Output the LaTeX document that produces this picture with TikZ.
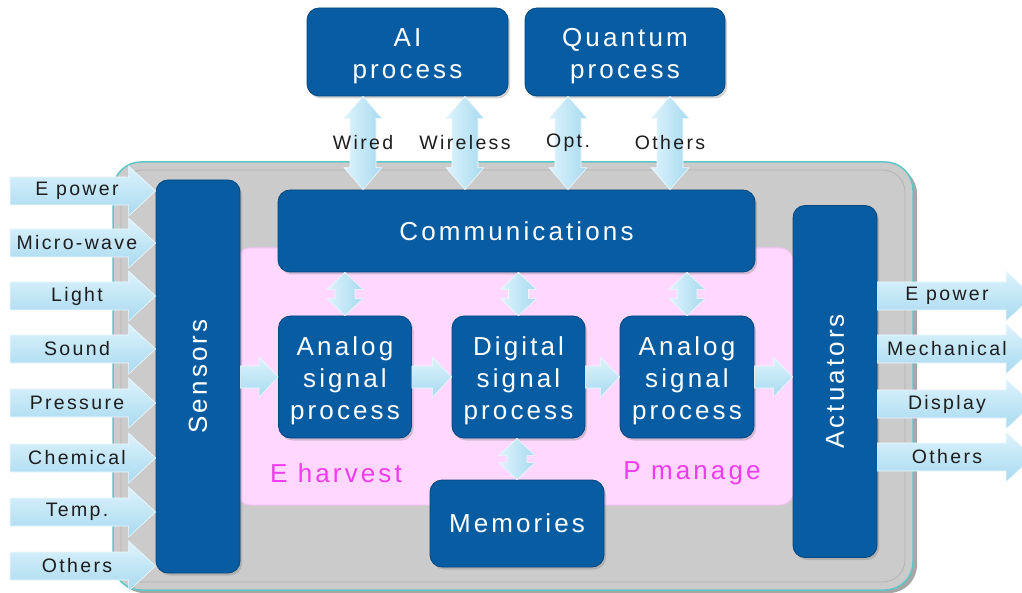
\documentclass[tikz,border=0pt]{standalone}
\usepackage{fontspec}
\setmainfont{Liberation Sans}[LetterSpace=12]
\usetikzlibrary{calc,shadows}

\definecolor{boxblue}{HTML}{075CA2}
\definecolor{boxedge}{HTML}{04467E}
\definecolor{frame}{HTML}{CBCBCB}
\definecolor{frameedge}{HTML}{5EC6C6}
\definecolor{pinkarea}{HTML}{FFD7FF}
\definecolor{pinkedge}{HTML}{F2C0F2}
\definecolor{arrowlight}{HTML}{DDF3FC}
\definecolor{arrowdark}{HTML}{A8DAF0}
\definecolor{arrowedge}{HTML}{EEF9FE}
\definecolor{labelink}{HTML}{1E1E1E}
\definecolor{magentaink}{HTML}{F03CF0}

% strut that lowers multi-line block text a little
\newcommand\toplift{\rule{0pt}{27pt}}

% right-pointing block arrow: style, tail, tip, shaft half-height, head half-height, head length
\newcommand\blockright[6]{%
  \path[#1] ($(#2)+(0,-#4)$) -- ($(#3)+(-#6,-#4)$) -- ($(#3)+(-#6,-#5)$) -- (#3)
    -- ($(#3)+(-#6,#5)$) -- ($(#3)+(-#6,#4)$) -- ($(#2)+(0,#4)$) -- cycle;}
% vertical double block arrow: style, upper tip, lower tip, shaft half-width, head half-width, head length
\newcommand\blockupdown[6]{%
  \path[#1] (#2) -- ($(#2)+(#5,#6)$) -- ($(#2)+(#4,#6)$) -- ($(#3)+(#4,-#6)$)
    -- ($(#3)+(#5,-#6)$) -- (#3) -- ($(#3)+(-#5,-#6)$) -- ($(#3)+(-#4,-#6)$)
    -- ($(#2)+(-#4,#6)$) -- ($(#2)+(-#5,#6)$) -- cycle;}

\tikzset{
  blk/.style={fill=boxblue, draw=boxedge, line width=0.8pt, rounded corners=12pt,
    text=white, font=\fontsize{26}{32}\selectfont, align=center, inner sep=0pt,
    drop shadow={shadow xshift=2pt, shadow yshift=-2.5pt, opacity=0.35}},
  blktext/.style={text=white, font=\fontsize{26}{32}\selectfont, align=center},
  harrow/.style={top color=arrowlight, bottom color=arrowdark, draw=arrowedge, line width=0.6pt},
  varrow/.style={left color=arrowlight, right color=arrowdark, draw=arrowedge, line width=0.6pt},
  lbl/.style={text=labelink, font=\fontsize{19.5}{22}\selectfont, inner sep=0pt},
  mlbl/.style={text=magentaink, font=\fontsize{26}{30}\selectfont, inner sep=0pt},
}

\begin{document}
\begin{tikzpicture}[x=1pt,y=-1pt]
\useasboundingbox (0,0) rectangle (1022,593);
\clip (0,0) rectangle (1022,593);
\fill[white] (0,0) rectangle (1022,593);

% outer housing
\fill[black!35, rounded corners=28pt] (116,166) rectangle (917,593);
\draw[fill=frame, draw=frameedge, line width=1.5pt, rounded corners=28pt] (113,162) rectangle (913,590);
\draw[black!30, line width=0.8pt, rounded corners=22pt] (121,170) rectangle (905,582);

% pink processing area
\draw[fill=pinkarea, draw=pinkedge, line width=1pt, rounded corners=14pt] (236,248) rectangle (794,505);

% blocks
\node[blk, minimum width=84pt, minimum height=393pt] (sens) at (198,376.5) {};
\node[blktext, rotate=90] (senslbl) at (sens.center) {Sensors};
\node[blk, minimum width=84pt, minimum height=352pt] (act) at (835,381.5) {};
\node[blktext, rotate=90] (actlbl) at (act.center) {Actuators};
\node[blk, minimum width=201pt, minimum height=88pt] (ai) at (407.5,52) {\toplift AI\\process};
\node[blk, minimum width=200pt, minimum height=88pt] (qp) at (625,52) {\toplift Quantum\\process};
\node[blk, minimum width=477pt, minimum height=82pt] (comm) at (516.5,231) {Communications};
\node[blk, minimum width=133pt, minimum height=122pt] (asp1) at (345,377) {\toplift Analog\\signal\\process};
\node[blk, minimum width=133pt, minimum height=122pt] (dsp) at (518.5,377) {\toplift Digital\\signal\\process};
\node[blk, minimum width=134pt, minimum height=122pt] (asp2) at (687,377) {\toplift Analog\\signal\\process};
\node[blk, minimum width=174pt, minimum height=87pt] (mem) at (517,523.5) {Memories};

% area labels
\node[mlbl] (harv) at (336,473) {E harvest};
\node[mlbl] (pman) at (692,473) {P manage};

% inputs into the sensors
\foreach \y/\t [count=\i] in {191/E power, 243/Micro-wave, 296/Light, 349/Sound,
    403/Pressure, 458/Chemical, 512/Temp., 566/Others} {
  \coordinate (in\i) at (10,\y);
  \coordinate (sin\i) at (sens.west |- 0,\y);
  \blockright{harrow}{in\i}{sin\i}{14}{25}{27}
  \node[lbl] (inl\i) at (77,\y) {\t};
}

% outputs from the actuators
\foreach \y/\t [count=\i] in {296/E power, 349/Mechanical, 404/Display, 457/Others} {
  \coordinate (aout\i) at (act.east |- 0,\y);
  \coordinate (out\i) at (1033,\y);
  \blockright{harrow}{aout\i}{out\i}{14}{25}{27}
  \node[lbl] (outl\i) at (947,\y) {\t};
}

% signal chain
\coordinate (c1a) at (sens.east |- 0,377);
\blockright{harrow}{c1a}{asp1.west}{11}{20}{19}
\blockright{harrow}{asp1.east}{dsp.west}{11}{20}{19}
\blockright{harrow}{dsp.east}{asp2.west}{11}{20}{19}
\coordinate (c4b) at (act.west |- 0,377);
\blockright{harrow}{asp2.east}{c4b}{11}{20}{19}

% links between communications and the blocks below
\blockupdown{varrow}{comm.south -| asp1.center}{asp1.north}{10}{18}{17}
\blockupdown{varrow}{comm.south -| dsp.center}{dsp.north}{10}{18}{17}
\blockupdown{varrow}{comm.south -| asp2.center}{asp2.north}{10}{18}{17}
\blockupdown{varrow}{dsp.south -| mem.center}{mem.north}{10}{18}{17}

% external links to the AI and quantum processors
\foreach \x/\t/\b [count=\i] in {363/Wired/ai, 465/Wireless/ai, 568/Opt./qp, 670/Others/qp} {
  \coordinate (lt\i) at (\b.south -| \x,0);
  \coordinate (lb\i) at (comm.north -| \x,0);
  \blockupdown{varrow}{lt\i}{lb\i}{13}{19}{22}
  \node[lbl] (ll\i) at (\x,143) {\t};
}
\end{tikzpicture}
\end{document}
